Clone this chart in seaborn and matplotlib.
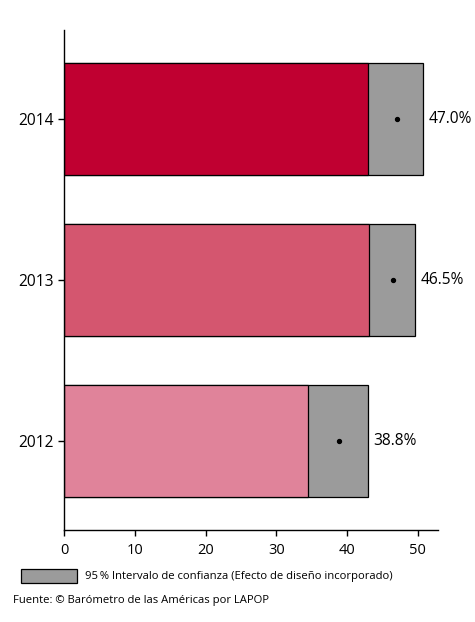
import matplotlib
matplotlib.use("Agg")
import matplotlib.pyplot as plt
import numpy as np
import pandas as pd
import seaborn as sns

# Data
years = ["2014", "2013", "2012"]
values = [47.0, 46.5, 38.8]
ci_low = [43.0, 43.1, 34.5]
ci_high = [50.7, 49.6, 42.9]
labels = ["47.0%", "46.5%", "38.8%"]
colors = ["#C00031", "#D4566F", "#E0839A"]

df = pd.DataFrame({"year": years, "value": values, "low": ci_low, "high": ci_high})

sns.set_style("white")
plt.rcParams["font.family"] = ["Open Sans", "DejaVu Sans"]
plt.rcParams["text.color"] = "black"
plt.rcParams["xtick.color"] = "black"
plt.rcParams["ytick.color"] = "black"

fig = plt.figure(figsize=(4.75, 6.22), dpi=100)
ax = fig.add_axes([64 / 475, 1 - 530 / 622, (437.7 - 64) / 475, 500 / 622])

# gray CI bar to the upper bound, then the coloured bar to the lower bound on top
sns.barplot(data=df, x="high", y="year", order=years, color="#9B9B9B", saturation=1,
            edgecolor="black", linewidth=0.9, width=0.70, ax=ax)
sns.barplot(data=df, x="low", y="year", order=years, hue="year", hue_order=years,
            palette=colors, saturation=1, edgecolor="black", linewidth=0.9, width=0.70,
            legend=False, ax=ax)

ax.scatter(df["value"], np.arange(len(years)), s=8, color="black", zorder=5)
for i, (hi, lab) in enumerate(zip(ci_high, labels)):
    ax.annotate(lab, (hi, i), xytext=(4, 0), textcoords="offset points",
                va="center", ha="left", fontsize=11.2)

ax.set_xlim(0, 52.8)
ax.set_ylim(2.553, -0.553)
ax.set_xticks([0, 10, 20, 30, 40, 50])
ax.set_xlabel("")
ax.set_ylabel("")
ax.tick_params(axis="x", labelsize=10.5, length=4, width=1, bottom=True, direction="out", pad=5)
ax.tick_params(axis="y", labelsize=11.2, length=4, width=1, left=True, direction="out")
sns.despine(ax=ax)
for s in ["left", "bottom"]:
    ax.spines[s].set_color("black")
    ax.spines[s].set_linewidth(1)

# legend box and source note
fig.patches.append(plt.Rectangle((21 / 475, 1 - 583 / 622), 56 / 475, 14 / 622,
                                 transform=fig.transFigure, facecolor="#9B9B9B",
                                 edgecolor="black", linewidth=0.9))
fig.text(85 / 475, 1 - 576 / 622,
         "95\u2009% Intervalo de confianza (Efecto de diseño incorporado)",
         fontsize=8.1, va="center", ha="left")
fig.text(13 / 475, 1 - 601 / 622, "Fuente: © Barómetro de las Américas por LAPOP",
         fontsize=8.1, va="center", ha="left")

fig.savefig("out.png", dpi=100)
